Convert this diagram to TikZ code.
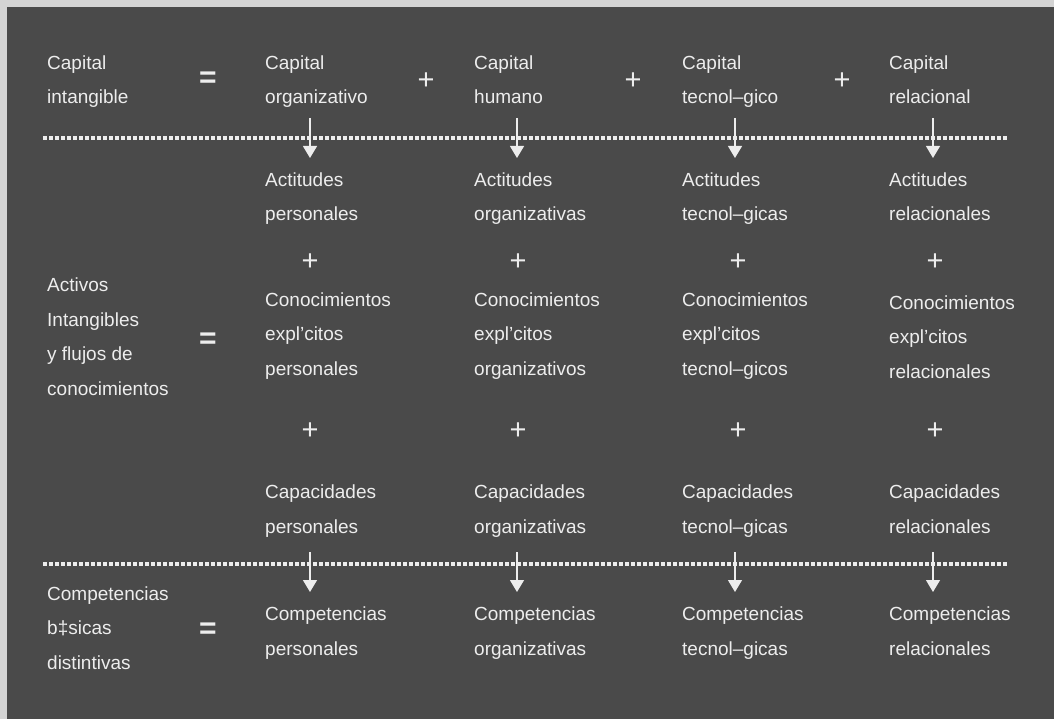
\documentclass[tikz,border=0pt]{standalone}
\usepackage{fontspec}
\setmainfont{Liberation Sans}
\usetikzlibrary{arrows.meta}
\definecolor{panel}{HTML}{4A4A4A}
\definecolor{frame}{HTML}{D4D4D4}
\definecolor{ink}{HTML}{EDEDED}
\begin{document}
\begin{tikzpicture}[x=1pt,y=-1pt,
  txt/.style={anchor=base west, text=ink, font=\fontsize{19}{34.5}\selectfont, inner sep=0pt, align=left},
  op/.style={text=ink, font=\fontsize{29}{29}\selectfont, inner sep=0pt},
  eqs/.style={text=ink, font=\fontsize{30}{30}\bfseries, inner sep=0pt},
  sep/.style={draw=ink, line width=4pt, dash pattern=on 4pt off 2pt},
  flow/.style={draw=ink, line width=1.2pt, -{Triangle[width=14pt,length=12pt]}}]
\fill[frame] (0,0) rectangle (1054,719);
\fill[panel] (7,7) rectangle (1054,719);
% row 1 (anchor = baseline of the last line)
\node[txt] (ci) at (47,104) {Capital\\intangible};
\node[eqs] (eq1) at (208,80) {=};
\node[txt] (co) at (265,104) {Capital\\organizativo};
\node[op] (pa1) at (426,81) {+};
\node[txt] (ch) at (474,104) {Capital\\humano};
\node[op] (pa2) at (633,81) {+};
\node[txt] (ct) at (682,104) {Capital\\tecnol–gico};
\node[op] (pa3) at (842,81) {+};
\node[txt] (cr) at (889,104) {Capital\\relacional};
% separator 1
\coordinate (s1a) at (43,138);
\coordinate (s1b) at (1008,138);
\draw[sep] (s1a) -- (s1b);
% actitudes
\node[txt] (a1) at (265,221) {Actitudes\\personales};
\node[txt] (a2) at (474,221) {Actitudes\\organizativas};
\node[txt] (a3) at (682,221) {Actitudes\\tecnol–gicas};
\node[txt] (a4) at (889,221) {Actitudes\\relacionales};
% arrows 1
\coordinate (u1) at (310,118); \coordinate (v1) at (310,158);
\coordinate (u2) at (517,118); \coordinate (v2) at (517,158);
\coordinate (u3) at (735,118); \coordinate (v3) at (735,158);
\coordinate (u4) at (933,118); \coordinate (v4) at (933,158);
\foreach \i in {1,2,3,4} \draw[flow] (u\i) -- (v\i);
% plus row 1
\node[op] (pb1) at (310,262) {+};
\node[op] (pb2) at (518,262) {+};
\node[op] (pb3) at (738,262) {+};
\node[op] (pb4) at (935,262) {+};
% activos
\node[txt] (act) at (47,395) {Activos\\Intangibles\\y flujos de\\conocimientos};
\node[eqs] (eq2) at (208,341) {=};
\node[txt] (k1) at (265,375) {Conocimientos\\expl’citos\\personales};
\node[txt] (k2) at (474,375) {Conocimientos\\expl’citos\\organizativos};
\node[txt] (k3) at (682,375) {Conocimientos\\expl’citos\\tecnol–gicos};
\node[txt] (k4) at (889,378) {Conocimientos\\expl’citos\\relacionales};
% plus row 2
\node[op] (pc1) at (310,431) {+};
\node[op] (pc2) at (518,431) {+};
\node[op] (pc3) at (738,431) {+};
\node[op] (pc4) at (935,431) {+};
% capacidades
\node[txt] (c1) at (265,533) {Capacidades\\personales};
\node[txt] (c2) at (474,533) {Capacidades\\organizativas};
\node[txt] (c3) at (682,533) {Capacidades\\tecnol–gicas};
\node[txt] (c4) at (889,533) {Capacidades\\relacionales};
% separator 2
\coordinate (s2a) at (43,564);
\coordinate (s2b) at (1008,564);
\draw[sep] (s2a) -- (s2b);
% arrows 2
\coordinate (w1) at (310,552); \coordinate (z1) at (310,592);
\coordinate (w2) at (517,552); \coordinate (z2) at (517,592);
\coordinate (w3) at (735,552); \coordinate (z3) at (735,592);
\coordinate (w4) at (933,552); \coordinate (z4) at (933,592);
\foreach \i in {1,2,3,4} \draw[flow] (w\i) -- (z\i);
% competencias
\node[txt] (cb) at (47,669) {Competencias\\b‡sicas\\distintivas};
\node[eqs] (eq3) at (208,631) {=};
\node[txt] (m1) at (265,655) {Competencias\\personales};
\node[txt] (m2) at (474,655) {Competencias\\organizativas};
\node[txt] (m3) at (682,655) {Competencias\\tecnol–gicas};
\node[txt] (m4) at (889,655) {Competencias\\relacionales};
\end{tikzpicture}
\end{document}
